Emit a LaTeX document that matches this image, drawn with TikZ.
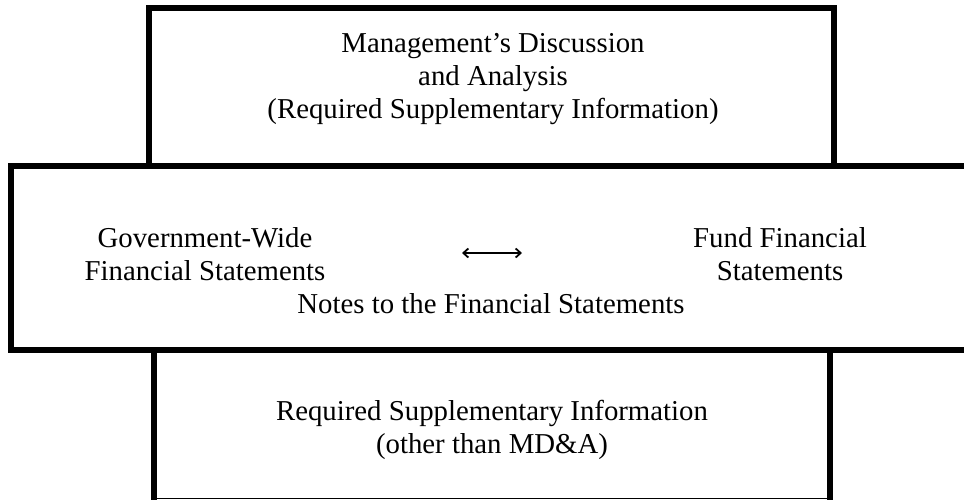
\documentclass[tikz,border=0pt]{standalone}
\usepackage{fontspec}
\setmainfont{Liberation Serif}
\usetikzlibrary{arrows.meta}
\begin{document}
\begin{tikzpicture}[x=1pt,y=-1pt,
  frame/.style={line width=6pt, line cap=rect},
  txt/.style={anchor=base, inner sep=0pt, font=\fontsize{28.8}{33}\selectfont},
  arr/.style={line width=1.8pt, -{Straight Barb[length=5pt,width=9pt]}}]
\useasboundingbox (0,0) rectangle (964,499);
% top box
\draw[frame] (149,166) -- (149,8) -- (834,8) -- (834,166);
% middle box
\draw[frame] (980,166) -- (11,166) -- (11,349.5) -- (980,349.5);
% bottom box
\draw[frame, line cap=butt] (154,349.5) -- (154,505);
\draw[frame, line cap=butt] (830,349.5) -- (830,505);
\draw[line width=1pt] (154,498.5) -- (830,498.5);
% texts
\node[txt] (t1) at (493,52) {Management’s Discussion};
\node[txt] (t2) at (493,85) {and Analysis};
\node[txt] (t3) at (493,118) {(Required Supplementary Information)};
\node[txt] (g1) at (205,247) {Government-Wide};
\node[txt] (g2) at (205,280) {Financial Statements};
\node[txt] (f1) at (780,247) {Fund Financial};
\node[txt] (f2) at (780,280) {Statements};
\coordinate (am) at (492,253);
\coordinate (al) at (462,253);
\coordinate (ar) at (522,253);
\draw[arr] (am) -- (al);
\draw[arr] (am) -- (ar);
\node[txt] (n1) at (491,313) {Notes to the Financial Statements};
\node[txt] (r1) at (492,420) {Required Supplementary Information};
\node[txt] (r2) at (492,453) {(other than MD\&A)};
\end{tikzpicture}
\end{document}
